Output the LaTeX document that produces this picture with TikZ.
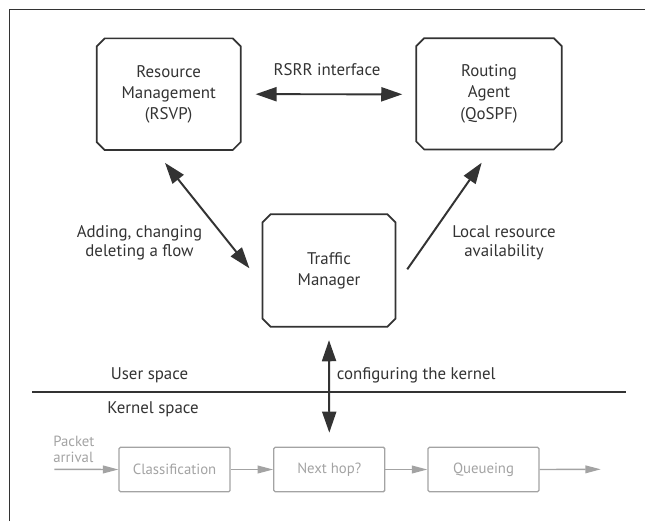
\documentclass[tikz,border=0pt]{standalone}
\usepackage{fontspec}
\setmainfont{PT Sans}
\usetikzlibrary{positioning, shapes.misc, arrows.meta, calc}

\definecolor{ink}{HTML}{333333}
\definecolor{pale}{HTML}{A3A3A3}

\begin{document}
\begin{tikzpicture}[x=0.025cm, y=-0.025cm]

\tikzstyle{box_style} = [chamfered rectangle, chamfered rectangle xsep=0.1cm, chamfered rectangle ysep=0.1cm, draw=ink, line width=1.2pt, text=ink, align=center, font=\fontsize{12}{15}\selectfont, inner sep=0pt]
\tikzstyle{gray_box} = [rectangle, draw=pale, line width=0.9pt, rounded corners=1pt, text=pale, minimum width=2.775cm, minimum height=1.11cm, font=\fontsize{10.5}{12}\selectfont]
\tikzstyle{label_style} = [text=ink, align=center, font=\fontsize{12}{13.5}\selectfont]
\tikzstyle{arrow_style} = [draw=ink, line width=1.4pt, -{Triangle[length=15pt, width=10pt]}]
\tikzstyle{both_style} = [draw=ink, line width=1.4pt, {Triangle[length=15pt, width=10pt]}-{Triangle[length=15pt, width=10pt]}]
\tikzstyle{gray_arrow} = [draw=pale, line width=1pt, -{Triangle[length=11pt, width=5.5pt]}]

\useasboundingbox (0,0) rectangle (645,521);

% frame
\draw[ink, line width=1pt] (9.3,521) -- (9.3,9.3) -- (645,9.3);

% user space
\node[box_style, minimum width=3.6cm, minimum height=2.79cm] (rm) at (168.7, 94.2) {Resource\\Management\\(RSVP)};
\node[box_style, minimum width=3.64cm, minimum height=2.78cm] (ra) at (489, 93.8) {Routing\\Agent\\(QoSPF)};
\node[box_style, minimum width=3.32cm, minimum height=2.81cm] (tm) at (329, 270.5) {Traffic\\Manager};

\node[label_style] (rsrr) at (327, 70) {RSRR interface};
\node[label_style] (flow) at (139.5, 242.5) {Adding, changing\\deleting a flow};
\node[label_style] (avail) at (504, 242.5) {Local resource\\availability};

\draw[both_style] ($(rm.east)+(14,0)$) -- ($(ra.west)+(-13,0.5)$);
\draw[both_style] ($(rm.south)+(-3.7,12)$) -- ($(tm.west)+(-12.3,-2.2)$);
\draw[arrow_style] ($(tm.east)+(11,-1.2)$) -- ($(ra.south)+(-7.3,12.4)$);

% kernel boundary
\coordinate (line_a) at (32.3, 392.3);
\coordinate (line_b) at (625.5, 392.3);
\draw[ink, line width=1.4pt] (line_a) -- (line_b);
\node[label_style] (user) at (149.5, 375) {User space};
\node[label_style] (kernel) at (153, 409) {Kernel space};
\node[label_style, anchor=west, inner sep=0pt] (config) at (336.5, 375) {configuring the kernel};

% kernel space
\node[gray_box] (cl) at (174.6, 469.5) {Classification};
\node[gray_box] (nh) at (329.3, 469.5) {Next hop?};
\node[gray_box] (qu) at (483.5, 469.5) {Queueing};
\coordinate (pkt) at (54.3, 469.3);
\coordinate (out) at (600.8, 469.3);
\node[text=pale, align=left, anchor=west, inner sep=0pt, font=\fontsize{10.5}{11}\selectfont] (arrival) at (53, 449.5) {Packet\\arrival};

\draw[both_style] ($(tm.south)+(0,12.6)$) -- ($(nh.north)+(0,-14)$);
\draw[gray_arrow] (pkt) -- (cl.west);
\draw[gray_arrow] (cl.east) -- (nh.west);
\draw[gray_arrow] (nh.east) -- (qu.west);
\draw[gray_arrow] (qu.east) -- (out);

\end{tikzpicture}
\end{document}
